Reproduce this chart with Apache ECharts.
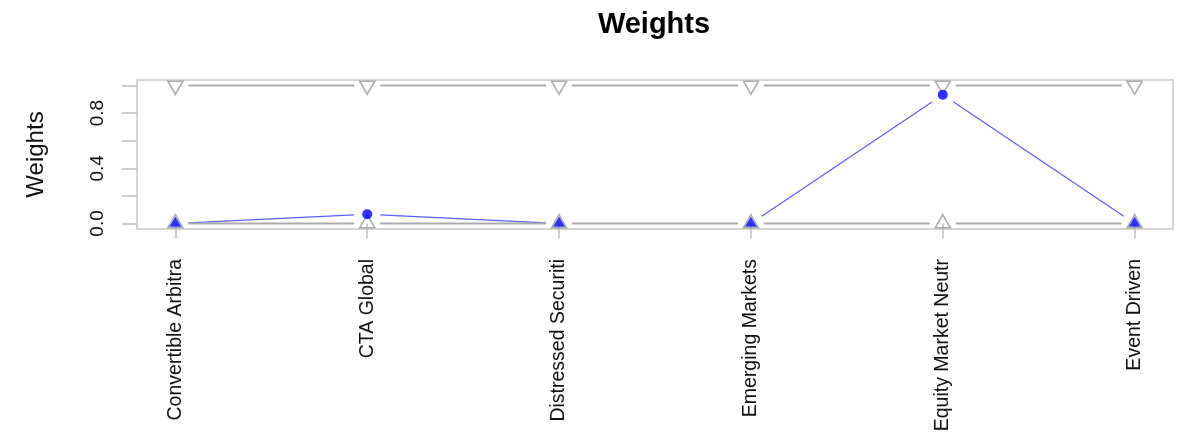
<!DOCTYPE html>
<html>
<head>
<meta charset="utf-8">
<script src="https://cdn.jsdelivr.net/npm/echarts@6/dist/echarts.min.js"></script>
<style>
  html, body { margin: 0; padding: 0; background: #fff; }
  #chart { width: 1190px; height: 440px; }
</style>
</head>
<body>
<div id="chart"></div>
<script>
const assetNames = ["Convertible Arbitra", "CTA Global", "Distressed Securiti", "Emerging Markets", "Equity Market Neutr", "Event Driven"];
const weights = [0, 0.067, 0, 0, 0.933, 0];
const upperBound = [1, 1, 1, 1, 1, 1];
const lowerBound = [0, 0, 0, 0, 0, 0];
const yTickValues = [0, 0.2, 0.4, 0.6, 0.8, 1.0];
const yLabelValues = [0, 0.4, 0.8];

const FONT = "'Liberation Sans', Arial, Helvetica, sans-serif";
const GAP = 13; // R type="b" leaves a gap round each point
const xPositions = assetNames.map((_, i) => i + 1);

function toPoints(values) {
  return values.map((v, i) => [xPositions[i], v]);
}

function toSegments(values) {
  const segs = [];
  for (let i = 1; i < values.length; i++) {
    segs.push([xPositions[i - 1], values[i - 1], xPositions[i], values[i]]);
  }
  return segs;
}

function gappedLine(values, color, width, z) {
  return {
    type: "custom",
    silent: true,
    z: z,
    data: toSegments(values),
    encode: { x: [0, 2], y: [1, 3] },
    renderItem(params, api) {
      const a = api.coord([api.value(0), api.value(1)]);
      const b = api.coord([api.value(2), api.value(3)]);
      const dx = b[0] - a[0];
      const dy = b[1] - a[1];
      const len = Math.hypot(dx, dy);
      if (len <= 2 * GAP) return null;
      const ux = dx / len;
      const uy = dy / len;
      return {
        type: "line",
        shape: { x1: a[0] + ux * GAP, y1: a[1] + uy * GAP, x2: b[0] - ux * GAP, y2: b[1] - uy * GAP },
        style: { stroke: color, lineWidth: width }
      };
    }
  };
}

// weights sitting on a bound get a filled triangle, the rest a dot
const weightAtLower = toPoints(weights).filter((p, i) => weights[i] <= lowerBound[i]);
const weightAtUpper = toPoints(weights).filter((p, i) => weights[i] >= upperBound[i]);
const weightInside = toPoints(weights).filter((p, i) => weights[i] > lowerBound[i] && weights[i] < upperBound[i]);

const chart = echarts.init(document.getElementById("chart"));

chart.setOption({
  animation: false,
  backgroundColor: "#fff",
  title: {
    text: "Weights",
    left: 649,
    top: 5,
    textAlign: "center",
    textStyle: { fontFamily: FONT, fontSize: 29, fontWeight: "bold", color: "#000" }
  },
  grid: {
    left: 137,
    right: 17,
    top: 80,
    bottom: 211,
    show: true,
    borderColor: "#c8c8c8",
    borderWidth: 1.5,
    containLabel: false,
    outerBoundsMode: "none"
  },
  xAxis: {
    type: "value",
    min: 0.8,
    max: 6.2,
    axisLine: { show: false },
    splitLine: { show: false },
    axisTick: { customValues: xPositions, length: 15, lineStyle: { color: "#bdbdbd", width: 1.5 } },
    axisLabel: {
      customValues: xPositions,
      formatter: (v) => assetNames[Math.round(v) - 1],
      rotate: 90,
      margin: 30,
      fontFamily: FONT,
      fontSize: 19.5,
      color: "#111"
    }
  },
  yAxis: {
    type: "value",
    min: -0.04,
    max: 1.04,
    name: "Weights",
    nameLocation: "middle",
    nameRotate: 90,
    nameGap: 89,
    nameTextStyle: { fontFamily: FONT, fontSize: 24, color: "#111" },
    axisLine: { show: false },
    splitLine: { show: false },
    axisTick: { customValues: yTickValues, length: 15, lineStyle: { color: "#bdbdbd", width: 1.5 } },
    axisLabel: {
      customValues: yLabelValues,
      formatter: (v) => v.toFixed(1),
      rotate: 90,
      margin: 30,
      fontFamily: FONT,
      fontSize: 19,
      color: "#111"
    }
  },
  series: [
    gappedLine(weights, "#5c5cff", 1.2, 2),
    gappedLine(upperBound, "#ababab", 2, 3),
    gappedLine(lowerBound, "#ababab", 2, 3),
    {
      type: "scatter",
      z: 4,
      silent: true,
      data: toPoints(upperBound),
      symbol: "triangle",
      symbolRotate: 180,
      symbolSize: [15, 13],
      symbolOffset: [0, 2.2],
      itemStyle: { color: "rgba(0,0,0,0)", borderColor: "#9a9a9a", borderWidth: 1.6 }
    },
    {
      type: "scatter",
      z: 4,
      silent: true,
      data: toPoints(lowerBound),
      symbol: "triangle",
      symbolSize: [15, 13],
      symbolOffset: [0, -2.2],
      itemStyle: { color: "rgba(0,0,0,0)", borderColor: "#9a9a9a", borderWidth: 1.6 }
    },
    {
      type: "scatter",
      z: 5,
      silent: true,
      data: weightAtLower,
      symbol: "triangle",
      symbolSize: [12, 10],
      symbolOffset: [0, -1.7],
      itemStyle: { color: "#0000ff" }
    },
    {
      type: "scatter",
      z: 5,
      silent: true,
      data: weightAtUpper,
      symbol: "triangle",
      symbolRotate: 180,
      symbolSize: [12, 10],
      symbolOffset: [0, 1.7],
      itemStyle: { color: "#0000ff" }
    },
    {
      type: "scatter",
      z: 5,
      silent: true,
      data: weightInside,
      symbol: "circle",
      symbolSize: 10,
      itemStyle: { color: "#0000ff" }
    }
  ]
});
</script>
</body>
</html>
